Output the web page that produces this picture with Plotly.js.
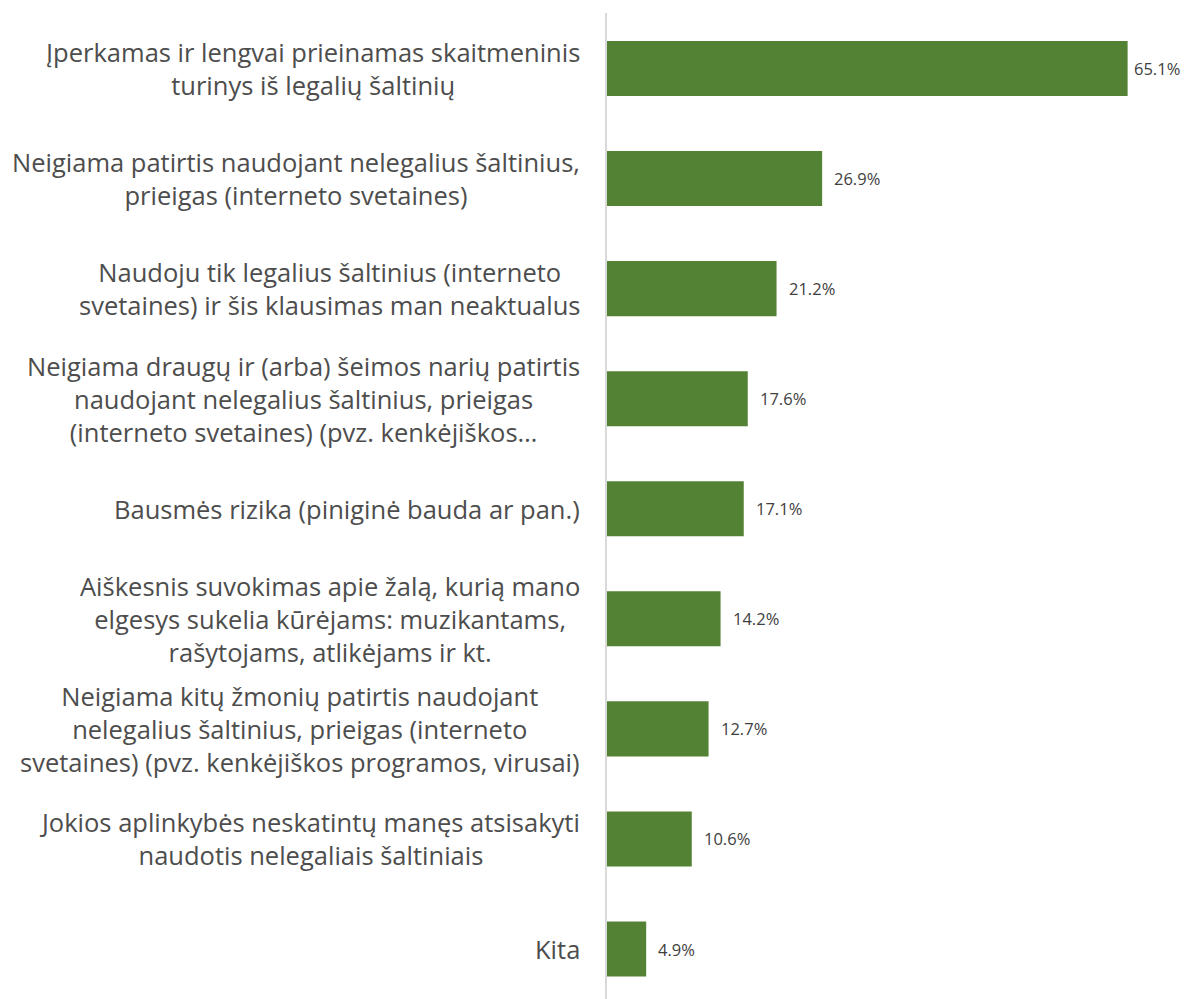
<!DOCTYPE html>
<html><head><meta charset="utf-8">
<script src="https://cdn.plot.ly/plotly-3.0.1.min.js"></script>
<style>html,body{margin:0;padding:0;background:#fff;}#chart{width:1190px;height:999px;}</style>
</head><body><div id="chart"></div>
<script>
const categories = [
  "Įperkamas ir lengvai prieinamas skaitmeninis<br>turinys iš legalių šaltinių",
  "Neigiama patirtis naudojant nelegalius šaltinius,<br>prieigas (interneto svetaines)",
  "Naudoju tik legalius šaltinius (interneto<br>svetaines) ir šis klausimas man neaktualus",
  "Neigiama draugų ir (arba) šeimos narių patirtis<br>naudojant nelegalius šaltinius, prieigas<br>(interneto svetaines) (pvz. kenkėjiškos…",
  "Bausmės rizika (piniginė bauda ar pan.)",
  "Aiškesnis suvokimas apie žalą, kurią mano<br>elgesys sukelia kūrėjams: muzikantams,<br>rašytojams, atlikėjams ir kt.",
  "Neigiama kitų žmonių patirtis naudojant<br>nelegalius šaltinius, prieigas (interneto<br>svetaines) (pvz. kenkėjiškos programos, virusai)",
  "Jokios aplinkybės neskatintų manęs atsisakyti<br>naudotis nelegaliais šaltiniais",
  "Kita"
];
const values = [65.1, 26.9, 21.2, 17.6, 17.1, 14.2, 12.7, 10.6, 4.9];
const valueLabels = ["65.1%", "26.9%", "21.2%", "17.6%", "17.1%", "14.2%", "12.7%", "10.6%", "4.9%"];

const W = 1190, H = 999, L = 607, T = 13;
const xMax = 72.9;
const pxPerUnit = (W - L) / xMax;
const idx = categories.map((_, i) => i);

const annotations = [];
categories.forEach((c, i) => {
  annotations.push({
    xref: 'paper', yref: 'y', x: 0, y: i, xanchor: 'right', yanchor: 'middle',
    xshift: -25, align: 'center', showarrow: false, text: c,
    font: {family: '"Open Sans", sans-serif', size: 25.5, color: '#4d4d4d'}
  });
});
values.forEach((v, i) => {
  const room = (W - L) - v * pxPerUnit - 58;
  const shift = Math.max(1, Math.min(10, room));
  annotations.push({
    xref: 'x', yref: 'y', x: v, y: i, xanchor: 'left', yanchor: 'middle',
    xshift: shift, showarrow: false, text: valueLabels[i],
    font: {family: '"Open Sans", sans-serif', size: 16.5, color: '#404040'}
  });
});

const trace = {
  type: 'bar', orientation: 'h', x: values, y: idx,
  marker: {color: '#548235'}, hoverinfo: 'none'
};

const layout = {
  width: W, height: H,
  margin: {l: L, r: 0, t: T, b: 0},
  paper_bgcolor: '#ffffff', plot_bgcolor: '#ffffff',
  bargap: 0.5, showlegend: false,
  xaxis: {range: [0, xMax], showgrid: false, zeroline: false, showticklabels: false, showline: false, fixedrange: true},
  yaxis: {range: [8.454, -0.504], autorange: false, showgrid: false, zeroline: false, showticklabels: false,
          showline: true, linecolor: '#d9d9d9', linewidth: 2, ticks: '', fixedrange: true},
  annotations: annotations
};
Plotly.newPlot('chart', [trace], layout, {displayModeBar: false, staticPlot: true});
</script></body></html>
